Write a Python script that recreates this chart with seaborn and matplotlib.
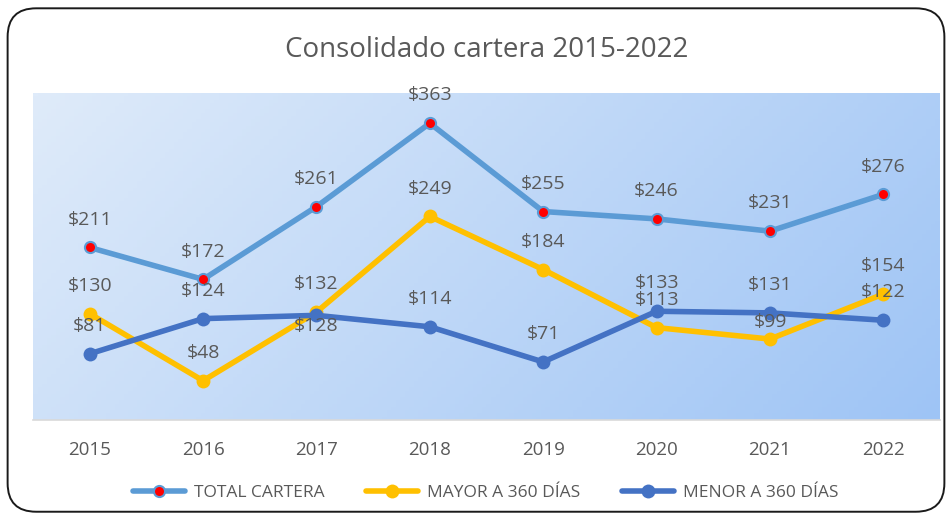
import numpy as np
import pandas as pd
import matplotlib
matplotlib.use("Agg")
import matplotlib.pyplot as plt
import seaborn as sns
from matplotlib.patches import FancyBboxPatch
from matplotlib.lines import Line2D

# data
years = ["2015", "2016", "2017", "2018", "2019", "2020", "2021", "2022"]
total_cartera = [211, 172, 261, 363, 255, 246, 231, 276]
mayor_360 = [130, 48, 132, 249, 184, 113, 99, 154]
menor_360 = [81, 124, 128, 114, 71, 133, 131, 122]

# label offsets in points (most labels sit above the marker)
mayor_offsets = [20, 20, 20, 20, 20, 20, 12, 20]
menor_offsets = [20, 20, -8, 20, 20, 20, 20, 20]

sns.set_theme(style="white")
plt.rcParams["font.family"] = ["Open Sans", "DejaVu Sans"]
text_color = "#595959"

fig = plt.figure(figsize=(9.52, 5.19), dpi=100)
ax = fig.add_axes([0.0347, 0.1908, 0.9527, 0.63])

# rounded chart border
border = FancyBboxPatch((0.008, 0.014), 0.984, 0.97,
                        boxstyle="round,pad=0,rounding_size=0.03",
                        transform=fig.transFigure, fill=False,
                        edgecolor="#1a1a1a", linewidth=1.4, mutation_aspect=952 / 519)
fig.patches.append(border)

# diagonal gradient for the plot area
nx, ny = 200, 100
gx, gy = np.meshgrid(np.linspace(0, 1, nx), np.linspace(0, 1, ny))
t = (gx * 0.75 + gy * 0.25)
c0 = np.array([223, 235, 250]) / 255
c1 = np.array([158, 196, 245]) / 255
grad = c0[None, None, :] * (1 - t[..., None]) + c1[None, None, :] * t[..., None]
ax.imshow(grad, extent=[-0.5, 7.5, 0, 400], origin="upper", aspect="auto", zorder=0)

x = np.arange(len(years))
df = pd.DataFrame({"x": x, "total": total_cartera, "mayor": mayor_360, "menor": menor_360})

sns.lineplot(data=df, x="x", y="mayor", ax=ax, color="#FFC000", linewidth=4,
             marker="o", markersize=10, markeredgewidth=0, zorder=3)
sns.lineplot(data=df, x="x", y="menor", ax=ax, color="#4472C4", linewidth=4,
             marker="o", markersize=10, markeredgewidth=0, zorder=4)
sns.lineplot(data=df, x="x", y="total", ax=ax, color="#5B9BD5", linewidth=4,
             marker="o", markersize=8, markerfacecolor="#FF0000",
             markeredgecolor="#5B9BD5", markeredgewidth=1.5, zorder=5)

lab_kw = dict(textcoords="offset points", ha="center", va="center",
              fontsize=14, color=text_color, zorder=6)
for i in x:
    ax.annotate(f"${total_cartera[i]}", (i, total_cartera[i]), xytext=(0, 20), **lab_kw)
    ax.annotate(f"${mayor_360[i]}", (i, mayor_360[i]), xytext=(0, mayor_offsets[i]), **lab_kw)
    ax.annotate(f"${menor_360[i]}", (i, menor_360[i]), xytext=(0, menor_offsets[i]), **lab_kw)

ax.set_xlim(-0.5, 7.5)
ax.set_ylim(0, 400)
ax.set_xticks(x)
ax.set_xticklabels(years, fontsize=13.5, color=text_color)
ax.set_yticks([])
ax.set_xlabel("")
ax.set_ylabel("")
ax.tick_params(axis="x", length=0, pad=15)
for side in ["top", "left", "right"]:
    ax.spines[side].set_visible(False)
ax.spines["bottom"].set_color("#D9D9D9")
ax.spines["bottom"].set_linewidth(1.2)

ax.set_title("Consolidado cartera 2015-2022", fontsize=20, color=text_color, pad=26)

handles = [
    Line2D([], [], color="#5B9BD5", linewidth=4, marker="o", markersize=8,
           markerfacecolor="#FF0000", markeredgecolor="#5B9BD5", markeredgewidth=1.5),
    Line2D([], [], color="#FFC000", linewidth=4, marker="o", markersize=10, markeredgewidth=0),
    Line2D([], [], color="#4472C4", linewidth=4, marker="o", markersize=10, markeredgewidth=0),
]
fig.legend(handles, ["TOTAL CARTERA", "MAYOR A 360 DÍAS", "MENOR A 360 DÍAS"],
           loc="center", bbox_to_anchor=(0.51, 0.05), ncol=3, frameon=False,
           fontsize=12.5, labelcolor=text_color, handlelength=3, columnspacing=2.4,
           handletextpad=0.5)

fig.savefig("out.png", dpi=100)
